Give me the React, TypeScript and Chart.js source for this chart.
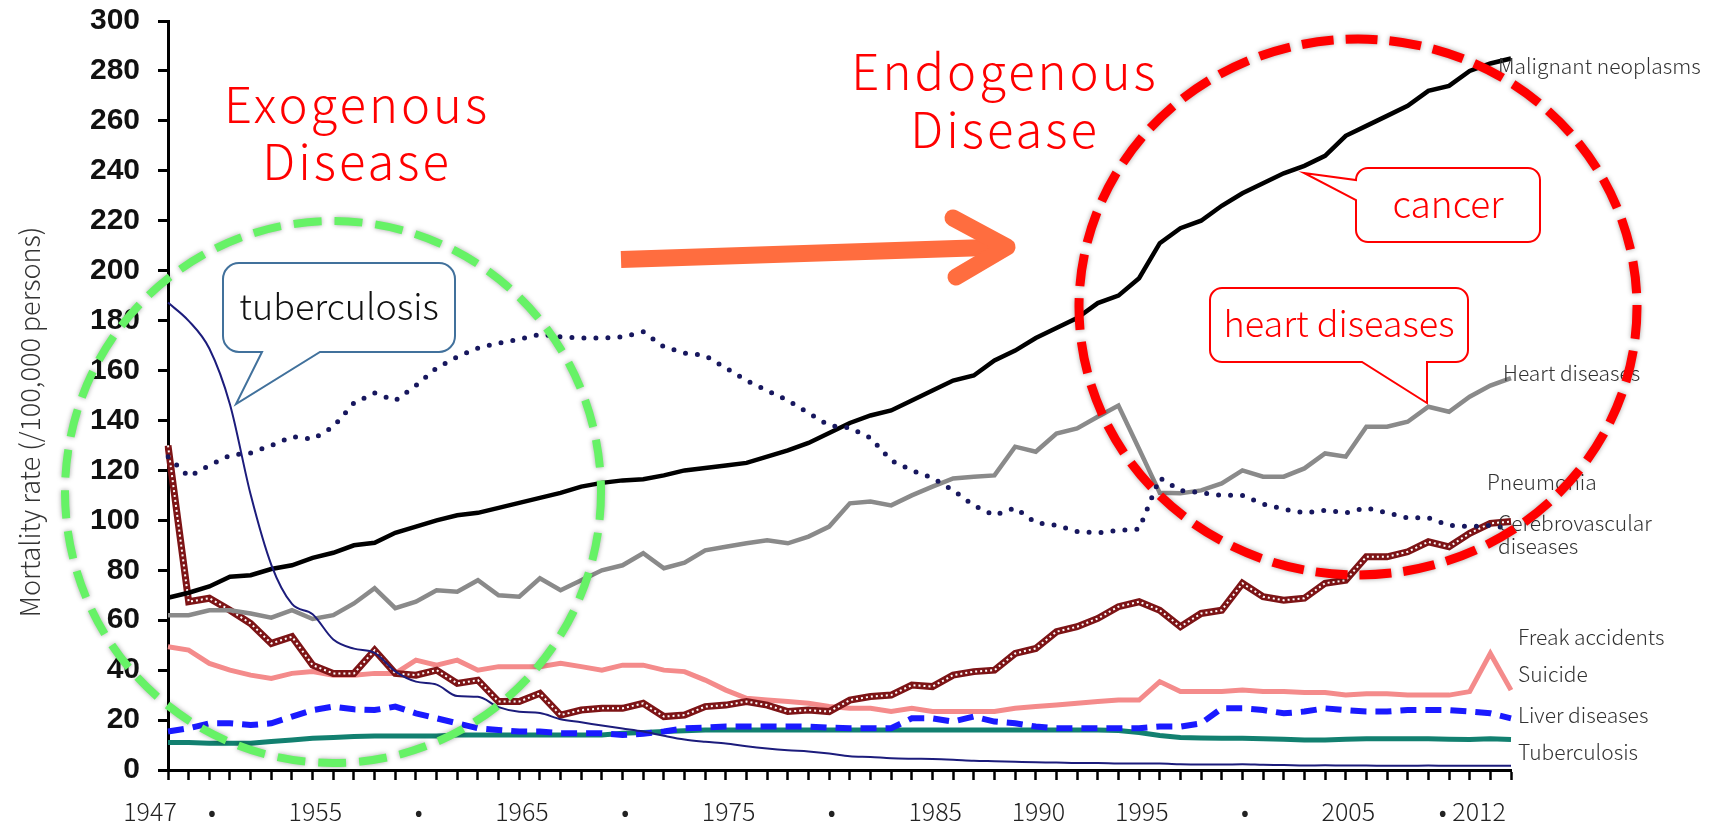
import React, { useEffect, useRef } from 'react';
import { Chart, registerables } from 'chart.js';

Chart.register(...registerables);

const years = [
  1947, 1948, 1949, 1950, 1951, 1952, 1953, 1954, 1955, 1956,
  1957, 1958, 1959, 1960, 1961, 1962, 1963, 1964, 1965, 1966,
  1967, 1968, 1969, 1970, 1971, 1972, 1973, 1974, 1975, 1976,
  1977, 1978, 1979, 1980, 1981, 1982, 1983, 1984, 1985, 1986,
  1987, 1988, 1989, 1990, 1991, 1992, 1993, 1994, 1995, 1996,
  1997, 1998, 1999, 2000, 2001, 2002, 2003, 2004, 2005, 2006,
  2007, 2008, 2009, 2010, 2011, 2012,
];

const xLabelYears = [1947, 1950, 1955, 1960, 1965, 1970, 1975, 1980, 1985, 1990, 1995, 2000, 2005, 2011];
const xLabelTexts = ['1947', '•', '1955', '•', '1965', '•', '1975', '•', '1985', '1990', '1995', '•', '2005', '• 2012'];

const malignantNeoplasms = [
  69, 71, 73.5, 77.4, 78, 80.5, 82, 85, 87, 90,
  91, 95, 97.5, 100, 102, 103, 105, 107, 109, 111,
  113.5, 115, 116, 116.5, 118, 120, 121, 122, 123, 125.5,
  128, 131, 135, 139, 142, 144, 148, 152, 156, 158,
  164, 168, 173, 177, 181, 187, 190, 197, 211, 217,
  220, 226, 231, 235, 239, 242, 246, 254, 258, 262,
  266, 272, 274, 280, 283, 285,
];

const heartDiseases = [
  62, 62, 64, 64, 62.7, 61, 64, 60.5, 62, 66.7,
  72.8, 64.8, 67.4, 72, 71.4, 76, 70, 69.4, 76.8, 72,
  76, 80, 82, 86.8, 80.8, 83, 88, 89.4, 90.8, 92,
  90.8, 93.5, 97.5, 106.8, 107.5, 106, 110, 113.5, 116.8, 117.5,
  118, 129.5, 127.5, 134.8, 136.8, 141.5, 146, 128.6, 111, 110.8,
  112, 114.8, 120, 117.5, 117.5, 120.8, 126.8, 125.5, 137.5, 137.5,
  139.5, 145.5, 143.5, 149.5, 154, 157,
];

const cerebrovascular = [
  125.5, 117.5, 122, 126, 127, 130, 133.5, 132.5, 137.5, 147,
  151, 148, 154, 161, 165.5, 169, 171, 172.5, 174.5, 173.5,
  173, 173, 173.5, 175.5, 169.5, 167, 166, 161, 156, 152,
  148, 143, 138, 137, 133, 124, 120, 117, 112, 106,
  102, 105, 99, 98, 95.5, 95, 96, 96.5, 117, 112,
  111, 110, 110, 106.5, 104.5, 103, 104, 103, 105, 103,
  101, 101, 98, 97.5, 98, 96.5,
];

const pneumonia = [
  130, 67.4, 68.8, 64, 58.7, 50.7, 53.4, 42, 38.7, 38.7,
  48, 38.7, 38, 40, 34.7, 36, 27.4, 27.4, 30.7, 22,
  24, 24.7, 24.7, 26.7, 21.4, 22, 25.4, 26, 27.4, 26,
  23.4, 24, 23.4, 28, 29.4, 30, 34, 33.4, 38, 39.4,
  40, 46.7, 48.7, 55.4, 57.4, 60.7, 65.4, 67.4, 64, 57.4,
  62.7, 64, 74.8, 69.4, 68, 68.8, 74.8, 76, 85.4, 85.4,
  87.4, 91.4, 89.4, 94.8, 98.8, 99.5,
];

const freakAccidents = [
  49.4, 48, 42.7, 40, 38, 36.7, 38.7, 39.4, 38, 38,
  38.7, 38.7, 44, 42, 44, 40, 41.4, 41.4, 41.4, 42.7,
  41.4, 40, 42, 42, 40, 39.4, 36, 32, 28.7, 28,
  27.4, 26.7, 25.4, 24.7, 24.7, 23.4, 24.7, 23.4, 23.4, 23.4,
  23.4, 24.7, 25.4, 26, 26.7, 27.4, 28, 28, 35.4, 31.4,
  31.4, 31.4, 32, 31.4, 31.4, 31, 31, 30, 30.5, 30.5,
  30, 30, 30, 31.4, 46.7, 32,
];

const liverDiseases = [
  15.4, 16.7, 18.7, 18.7, 18, 18.7, 21.4, 24, 25.4, 24.3,
  24, 25.4, 22.7, 20.7, 18.7, 16.7, 16, 15.4, 15.4, 14.7,
  14.7, 14.7, 14, 14.5, 15.4, 16.7, 17, 17.4, 17.4, 17.4,
  17.4, 17.4, 17, 16.7, 16.7, 16.7, 20.7, 20.7, 19.4, 21.4,
  19.4, 18.7, 17.4, 16.7, 16.7, 16.7, 16.7, 16.7, 17.4, 17.4,
  18.7, 24.7, 24.7, 24, 22.7, 23.4, 24.7, 24, 23.4, 23.4,
  24, 24, 24, 23.4, 22.7, 20.7,
];

const tealSeries = [
  11, 11, 10.7, 10.7, 10.7, 11.4, 12, 12.7, 13, 13.4,
  13.6, 13.6, 13.6, 13.6, 14, 14, 14, 14, 14, 14,
  14, 14, 14.7, 15, 15.4, 15.7, 16, 16, 16, 16,
  16, 16, 16, 16, 16, 16, 16, 16, 16, 16,
  16, 16, 16, 16, 16, 16, 15.8, 15, 13.8, 13,
  12.8, 12.7, 12.7, 12.5, 12.3, 12, 12, 12.3, 12.5, 12.5,
  12.5, 12.5, 12.3, 12.2, 12.5, 12.2,
];

const tuberculosis = [
  187.2, 179.9, 168.8, 146.4, 110.3, 82.2, 66.5, 62.4, 52.3, 48.6,
  46.9, 39.5, 35.4, 34.2, 29.6, 29.3, 25.2, 23.3, 22.8, 20.3,
  19.1, 17.8, 16.6, 15.4, 13.7, 12.2, 11.3, 10.6, 9.5, 8.6,
  7.9, 7.4, 6.6, 5.5, 5.2, 4.7, 4.5, 4.4, 4.1, 3.7,
  3.5, 3.3, 3.1, 3.0, 2.8, 2.8, 2.6, 2.6, 2.6, 2.3,
  2.2, 2.2, 2.3, 2.1, 2.0, 1.8, 1.9, 1.8, 1.8, 1.7,
  1.7, 1.8, 1.7, 1.7, 1.7, 1.7,
];

const LIGHT = "'Noto Sans CJK JP', 'Noto Sans', sans-serif";

function calloutPath(
  ctx: CanvasRenderingContext2D,
  x: number, y: number, w: number, h: number, r: number,
  side: 'bottom' | 'left', a: number, b: number, tipX: number, tipY: number,
) {
  ctx.beginPath();
  ctx.moveTo(x + r, y);
  ctx.lineTo(x + w - r, y);
  ctx.arcTo(x + w, y, x + w, y + r, r);
  ctx.lineTo(x + w, y + h - r);
  ctx.arcTo(x + w, y + h, x + w - r, y + h, r);
  if (side === 'bottom') {
    ctx.lineTo(b, y + h);
    ctx.lineTo(tipX, tipY);
    ctx.lineTo(a, y + h);
  }
  ctx.lineTo(x + r, y + h);
  ctx.arcTo(x, y + h, x, y + h - r, r);
  if (side === 'left') {
    ctx.lineTo(x, b);
    ctx.lineTo(tipX, tipY);
    ctx.lineTo(x, a);
  }
  ctx.lineTo(x, y + r);
  ctx.arcTo(x, y, x + r, y, r);
  ctx.closePath();
}

const annotationPlugin = {
  id: 'annotations',
  afterDraw(chart: any) {
    const ctx: CanvasRenderingContext2D = chart.ctx;
    ctx.save();

    // Y axis title
    ctx.save();
    ctx.translate(30, 422);
    ctx.rotate(-Math.PI / 2);
    ctx.fillStyle = '#333';
    ctx.font = `300 27px ${LIGHT}`;
    ctx.textAlign = 'center';
    ctx.textBaseline = 'middle';
    ctx.fillText('Mortality rate (/100,000 persons)', 0, 0);
    ctx.restore();

    // Series labels
    ctx.fillStyle = '#333';
    ctx.font = `300 21px ${LIGHT}`;
    ctx.textAlign = 'left';
    ctx.textBaseline = 'middle';
    const labels: [string, number, number][] = [
      ['Malignant neoplasms', 1498, 66],
      ['Heart diseases', 1503, 373],
      ['Pneumonia', 1487, 482],
      ['Cerebrovascular', 1498, 523],
      ['diseases', 1498, 546],
      ['Freak accidents', 1518, 637],
      ['Suicide', 1518, 674],
      ['Liver diseases', 1518, 715],
      ['Tuberculosis', 1518, 752],
    ];
    labels.forEach(([t, x, y]) => ctx.fillText(t, x, y));

    // Big headings
    ctx.fillStyle = '#FF0000';
    ctx.font = `300 49px ${LIGHT}`;
    ctx.textAlign = 'center';
    ctx.textBaseline = 'alphabetic';
    (ctx as any).letterSpacing = '3px';
    ctx.fillText('Exogenous', 357, 123);
    ctx.fillText('Disease', 357, 180);
    ctx.fillText('Endogenous', 1005, 90);
    ctx.fillText('Disease', 1005, 148);
    (ctx as any).letterSpacing = '0px';

    // Arrow
    ctx.strokeStyle = '#FF6D3F';
    ctx.lineWidth = 17;
    ctx.lineCap = 'butt';
    ctx.beginPath();
    ctx.moveTo(621, 259.5);
    ctx.lineTo(1002, 247);
    ctx.stroke();
    ctx.lineCap = 'round';
    ctx.lineJoin = 'round';
    ctx.beginPath();
    ctx.moveTo(953, 218);
    ctx.lineTo(1007, 247);
    ctx.lineTo(956, 277);
    ctx.stroke();

    // Callouts
    ctx.lineCap = 'butt';
    ctx.lineJoin = 'miter';
    ctx.lineWidth = 2;
    calloutPath(ctx, 223, 263, 232, 89, 16, 'bottom', 262, 320, 236, 404);
    ctx.fillStyle = '#fff';
    ctx.fill();
    ctx.strokeStyle = '#41719C';
    ctx.stroke();
    ctx.fillStyle = '#111';
    ctx.font = `300 36px ${LIGHT}`;
    ctx.textAlign = 'center';
    ctx.textBaseline = 'middle';
    ctx.fillText('tuberculosis', 339, 306);

    calloutPath(ctx, 1356, 168, 184, 74, 12, 'left', 180, 200, 1304, 173);
    ctx.fillStyle = '#fff';
    ctx.fill();
    ctx.strokeStyle = '#FF0000';
    ctx.stroke();
    ctx.fillStyle = '#FF0000';
    ctx.font = `300 37px ${LIGHT}`;
    ctx.fillText('cancer', 1448, 204);

    calloutPath(ctx, 1210, 288, 258, 74, 12, 'bottom', 1362, 1427, 1427, 403);
    ctx.fillStyle = '#fff';
    ctx.fill();
    ctx.strokeStyle = '#FF0000';
    ctx.stroke();
    ctx.fillStyle = '#FF0000';
    ctx.font = `300 36px ${LIGHT}`;
    ctx.fillText('heart diseases', 1339, 323);

    // Circles
    ctx.save();
    ctx.shadowColor = 'rgba(0,0,0,0.35)';
    ctx.shadowBlur = 5;
    ctx.lineWidth = 8;
    ctx.setLineDash([28, 13]);
    ctx.strokeStyle = '#66F266';
    ctx.beginPath();
    ctx.ellipse(333, 492, 268, 271, 0, 0, Math.PI * 2);
    ctx.stroke();
    ctx.lineWidth = 9;
    ctx.setLineDash([32, 12]);
    ctx.strokeStyle = '#FF0000';
    ctx.beginPath();
    ctx.ellipse(1358, 307, 279, 268, 0, 0, Math.PI * 2);
    ctx.stroke();
    ctx.restore();

    ctx.restore();
  },
};

export default function App() {
  const ref = useRef<HTMLCanvasElement>(null);
  useEffect(() => {
    document.body.style.margin = '0';
    const line = (data: number[], color: string, width: number, extra: any = {}) => ({
      data,
      borderColor: color,
      backgroundColor: color,
      borderWidth: width,
      pointRadius: 0,
      tension: 0,
      fill: false,
      ...extra,
    });
    const chart = new Chart(ref.current as HTMLCanvasElement, {
      type: 'line',
      data: {
        labels: years.map(String),
        datasets: [
          line(tuberculosis, '#1C1C7C', 2, { cubicInterpolationMode: 'monotone' }),
          line(cerebrovascular, '#17175E', 5, { borderDash: [0, 12], borderCapStyle: 'round' }),
          line(malignantNeoplasms, '#000000', 4.5),
          line(heartDiseases, '#8A8A8A', 4.5),
          line(pneumonia, '#FFFFFF', 2, { borderDash: [2, 3] }),
          line(pneumonia, '#7D1416', 7),
          line(liverDiseases, '#1A1AFF', 6, { borderDash: [16, 9] }),
          line(freakAccidents, '#F48B8B', 5),
          line(tealSeries, '#128070', 5),
        ] as any,
      },
      options: {
        animation: false,
        responsive: false,
        maintainAspectRatio: false,
        layout: { padding: { left: 0, right: 207, top: 21, bottom: 0 } },
        plugins: { legend: { display: false }, tooltip: { enabled: false } },
        scales: {
          x: {
            offset: false,
            grid: {
              display: true,
              drawOnChartArea: false,
              drawTicks: true,
              tickLength: 10,
              tickWidth: 2.5,
              tickColor: '#000',
            },
            border: { display: true, color: '#000', width: 3 },
            ticks: {
              autoSkip: false,
              maxRotation: 0,
              minRotation: 0,
              labelOffset: -18,
              padding: 16,
              color: '#222',
              font: { family: LIGHT, size: 25, weight: '300' },
              callback: (_v: any, i: number) => {
                const k = xLabelYears.indexOf(years[i]);
                return k >= 0 ? xLabelTexts[k] : '';
              },
            },
            afterFit: (s: any) => {
              s.height = 52;
              s.paddingLeft = 0;
              s.paddingRight = 0;
            },
          },
          y: {
            min: 0,
            max: 300,
            grid: {
              display: true,
              drawOnChartArea: false,
              drawTicks: true,
              tickLength: 10,
              tickWidth: 3,
              tickColor: '#000',
            },
            border: { display: true, color: '#000', width: 3 },
            ticks: {
              stepSize: 20,
              padding: 18,
              color: '#111',
              font: { family: "'Liberation Sans', Arial, sans-serif", size: 30, weight: 'bold' },
            },
            afterFit: (s: any) => {
              s.width = 168;
              s.paddingTop = 0;
              s.paddingBottom = 0;
            },
          },
        },
      } as any,
      plugins: [annotationPlugin],
    });
    return () => chart.destroy();
  }, []);
  return (
    <div style={{ position: 'absolute', left: 0, top: 0, width: 1718, height: 822, background: '#fff' }}>
      <canvas ref={ref} width={1718} height={822} style={{ display: 'block' }} />
    </div>
  );
}
